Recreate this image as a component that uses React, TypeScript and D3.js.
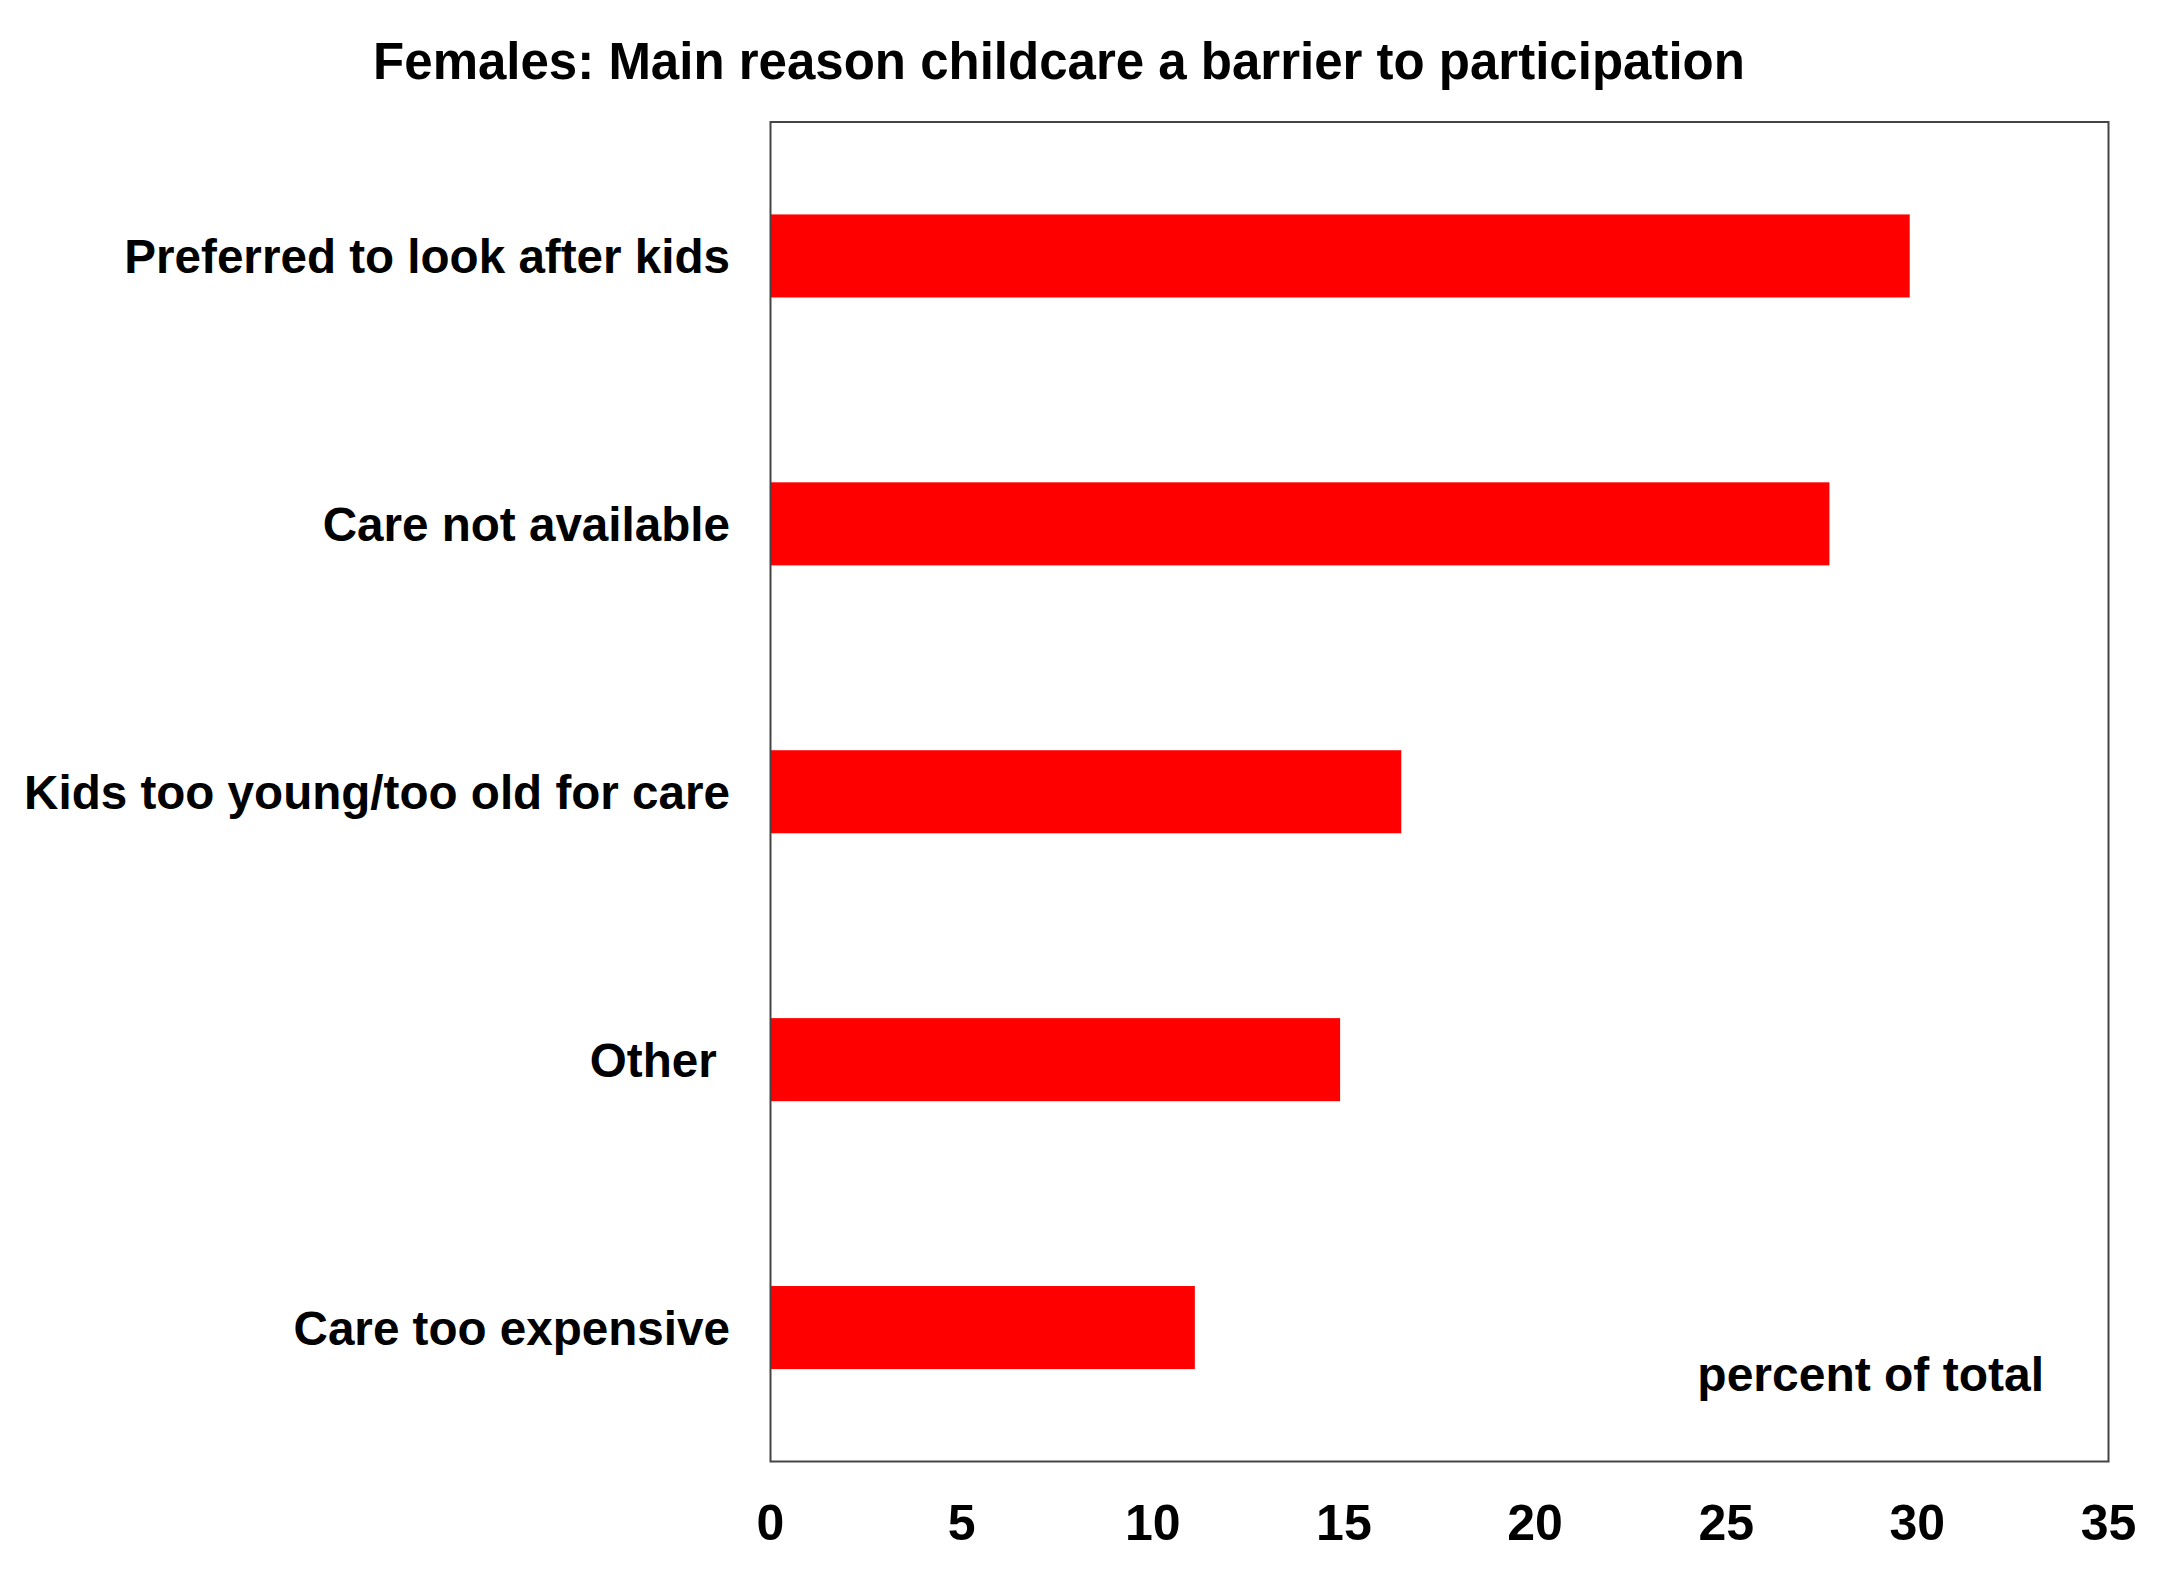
import React from "react";
import * as d3 from "d3";

const categories = [
  "Preferred to look after kids",
  "Care not available",
  "Kids too young/too old for care",
  "Other ",
  "Care too expensive",
];
const values = [29.8, 27.7, 16.5, 14.9, 11.1];
const xTicks = [0, 5, 10, 15, 20, 25, 30, 35];
const title = "Females: Main reason childcare a barrier to participation";
const unitLabel = "percent of total";

const W = 2173;
const H = 1572;
const M = { left: 770.5, right: 2108.5, top: 122, bottom: 1461.5 };
const FONT = "'Liberation Sans', Arial, Helvetica, sans-serif";

export default function App() {
  const x = d3.scaleLinear().domain([0, 35]).range([M.left, M.right]);
  const y = d3
    .scaleBand<string>()
    .domain(categories)
    .range([M.top, M.bottom])
    .paddingInner(0.69)
    .paddingOuter(0.345);

  return (
    <svg
      width={W}
      height={H}
      style={{ position: "absolute", left: 0, top: 0, background: "#fff" }}
      fontFamily={FONT}
    >
      <rect x={0} y={0} width={W} height={H} fill="#fff" />
      <text x={1059} y={79} textAnchor="middle" fontSize={51} fontWeight="bold" fill="#000">
        {title}
      </text>
      {categories.map((c, i) => (
        <rect
          key={c}
          x={x(0)}
          y={y(c)}
          width={x(values[i]) - x(0)}
          height={y.bandwidth()}
          fill="#ff0000"
        />
      ))}
      <rect
        x={M.left}
        y={M.top}
        width={M.right - M.left}
        height={M.bottom - M.top}
        fill="none"
        stroke="#444"
        strokeWidth={2}
      />
      {categories.map((c) => (
        <text
          key={"l" + c}
          x={730}
          y={(y(c) as number) + y.bandwidth() / 2 + 17}
          textAnchor="end"
          fontSize={47.6}
          fontWeight="bold"
          fill="#000"
          style={{ whiteSpace: "pre" }}
        >
          {c}
        </text>
      ))}
      {xTicks.map((t) => (
        <text
          key={"t" + t}
          x={x(t)}
          y={1540}
          textAnchor="middle"
          fontSize={50}
          fontWeight="bold"
          fill="#000"
        >
          {t}
        </text>
      ))}
      <text x={2044} y={1391} textAnchor="end" fontSize={48} fontWeight="bold" fill="#000">
        {unitLabel}
      </text>
    </svg>
  );
}
